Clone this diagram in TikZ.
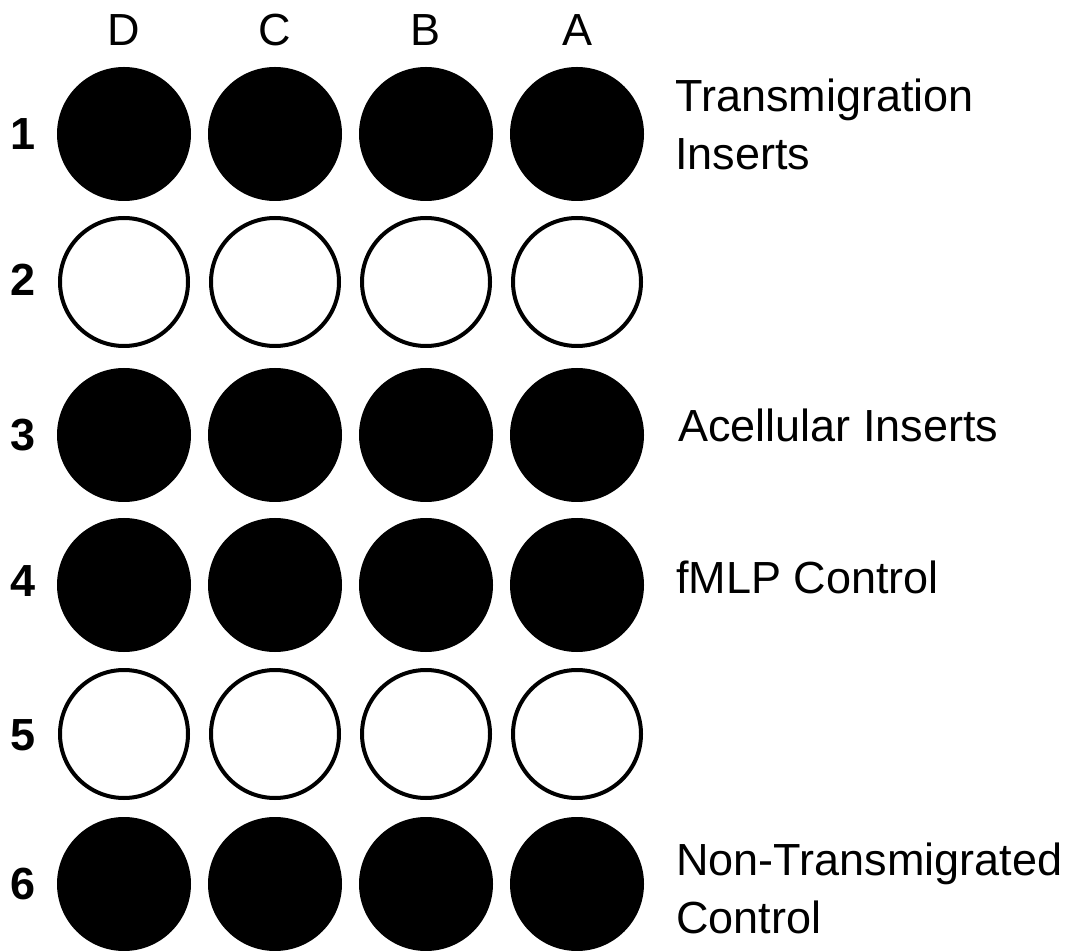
\documentclass[tikz,border=0pt]{standalone}
\usepackage{fontspec}
\setmainfont{Liberation Sans}
\tikzset{
  full/.style={circle, fill=black, inner sep=0pt, minimum size=67pt},
  empty/.style={circle, draw=black, fill=white, line width=2pt, inner sep=0pt, minimum size=64pt},
  collabel/.style={inner sep=0pt, font=\fontsize{22.5}{27}\selectfont},
  rowlabel/.style={inner sep=0pt, font=\fontsize{22.5}{27}\selectfont\bfseries},
  groupnote/.style={inner sep=0pt, anchor=base west, align=left, font=\fontsize{22.5}{29}\selectfont}
}
\begin{document}
\begin{tikzpicture}[x=0.5pt, y=-0.5pt]
  \useasboundingbox[fill=white] (0,0) rectangle (1070,951);

  % column headings
  \node[collabel] (hD) at (124,30) {D};
  \node[collabel] (hC) at (275,30) {C};
  \node[collabel] (hB) at (426,30) {B};
  \node[collabel] (hA) at (577,30) {A};

  % row numbers
  \node[rowlabel] (r1) at (23,134) {1};
  \node[rowlabel] (r2) at (23,280) {2};
  \node[rowlabel] (r3) at (23,435) {3};
  \node[rowlabel] (r4) at (23,581) {4};
  \node[rowlabel] (r5) at (23,735) {5};
  \node[rowlabel] (r6) at (23,884) {6};

  % wells: filled rows 1,3,4,6 and open rows 2,5
  \foreach \c/\x in {D/124, C/275, B/426, A/577}{
    \node[full]  (\c1) at (\x,134) {};
    \node[empty] (\c2) at (\x,282) {};
    \node[full]  (\c3) at (\x,435) {};
    \node[full]  (\c4) at (\x,585) {};
    \node[empty] (\c5) at (\x,734) {};
    \node[full]  (\c6) at (\x,884) {};
  }

  % group descriptions (base anchor sits on the last line)
  \node[groupnote] (t1) at (675,170) {Transmigration\\Inserts};
  \node[groupnote] (t3) at (678,442) {Acellular Inserts};
  \node[groupnote] (t4) at (676,593) {fMLP Control};
  \node[groupnote] (t6) at (676,933) {Non-Transmigrated\\Control};
\end{tikzpicture}
\end{document}
